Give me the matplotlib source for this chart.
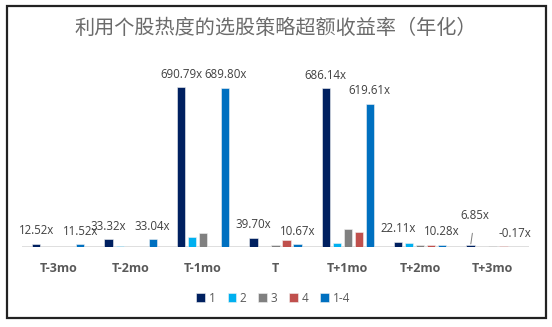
"""
个股热度选股策略超额收益率（年化）-- bar chart
"""

import matplotlib
matplotlib.use("Agg")
import matplotlib.pyplot as plt
import numpy as np
from matplotlib.patches import Rectangle

plt.rcParams['font.family'] = ['Open Sans', 'DejaVu Sans']

TITLE = "利用个股热度的选股策略超额收益率（年化）"
CATEGORIES = ["T-3mo", "T-2mo", "T-1mo", "T", "T+1mo", "T+2mo", "T+3mo"]
SERIES = ["1", "2", "3", "4", "1-4"]

S1   = [12.52, 33.32, 690.79, 39.70, 686.14, 22.11, 6.85]
S2   = [0.8, 3.0, 41.0, 1.0, 15.0, 15.0, 1.0]
S3   = [0.5, 1.5, 62.0, 9.0, 78.0, 8.0, 5.0]
S4   = [0.3, 0.5, 0.0, 30.0, 66.0, 8.0, 5.0]
S1_4 = [11.52, 33.04, 689.80, 10.67, 619.61, 10.28, -0.17]

COLORS = ["#002060", "#00B0F0", "#808080", "#C0504D", "#0070C0"]
LABELLED = {0: S1, 4: S1_4}

fig = plt.figure(figsize=(5.52, 3.27), dpi=100)
fig.patches.append(Rectangle((0.012, 0.028), 0.978, 0.955, transform=fig.transFigure,
                             fill=False, edgecolor="#222222", linewidth=1.6))

ax = fig.add_axes([0.040, 0.245, 0.918, 0.565])
x = np.arange(len(CATEGORIES))
slot, width = 0.152, 0.115
series_vals = [S1, S2, S3, S4, S1_4]

for i, (vals, col, name) in enumerate(zip(series_vals, COLORS, SERIES)):
    pos = x + (i - 2) * slot
    ax.bar(pos, vals, width=width, color=col, edgecolor="#f2f2f2",
           linewidth=0.4, label=name, zorder=3)
    if i in LABELLED:
        for px, v in zip(pos, vals):
            txt = f"{v:.2f}x"
            if txt == "6.85x":
                # Excel moved this one up and drew a leader line
                ax.annotate(txt, xy=(px, v), xytext=(px + 0.06, v + 128),
                            ha="center", va="center", fontsize=8.3, color="#404040",
                            arrowprops=dict(arrowstyle="-", color="#7f7f7f", lw=0.7,
                                            shrinkA=6, shrinkB=1))
            else:
                ax.annotate(txt, xy=(px, max(v, 0)), xytext=(0, 13),
                            textcoords="offset pixels",
                            ha="center", va="center", fontsize=8.3, color="#404040")

ax.axhline(0, color="#d9d9d9", lw=1.2, zorder=2)
ax.set_xlim(-0.5, len(CATEGORIES) - 0.5)
ax.set_ylim(0, 800)
for s in ax.spines.values():
    s.set_visible(False)
ax.set_yticks([])
ax.set_xticks(x)
ax.set_xticklabels(CATEGORIES, fontsize=9, fontweight="bold", color="#595959")
ax.tick_params(axis="x", length=0, pad=11)

fig.text(0.5, 0.912, TITLE, ha="center", va="center", fontsize=14.5,
         color="#6b6b6b", family=["Noto Sans CJK SC", "DejaVu Sans"])

fig.legend(loc="center", bbox_to_anchor=(0.495, 0.088), ncol=5, frameon=False,
           fontsize=8.5, handlelength=0.75, handleheight=0.75, handletextpad=0.3,
           columnspacing=1.0, labelcolor="#595959")

plt.savefig("out.png", dpi=100)
